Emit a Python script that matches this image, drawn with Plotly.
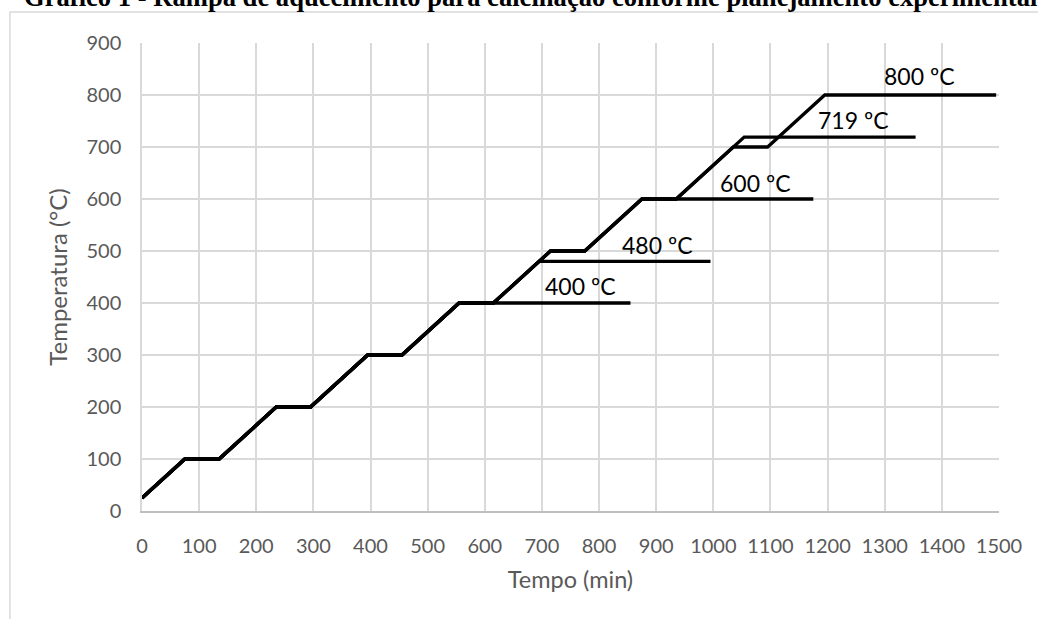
import plotly.graph_objects as go

# Heating programmes (time in min, temperature in °C)
t_800 = [0, 75, 135, 235, 295, 395, 455, 555, 615, 715, 775, 875, 935, 1035, 1095, 1195, 1495]
T_800 = [25, 100, 100, 200, 200, 300, 300, 400, 400, 500, 500, 600, 600, 700, 700, 800, 800]

t_400 = [0, 75, 135, 235, 295, 395, 455, 555, 855]
T_400 = [25, 100, 100, 200, 200, 300, 300, 400, 400]

t_480 = [0, 75, 135, 235, 295, 395, 455, 555, 615, 695, 995]
T_480 = [25, 100, 100, 200, 200, 300, 300, 400, 400, 480, 480]

t_600 = [0, 75, 135, 235, 295, 395, 455, 555, 615, 715, 775, 875, 1175]
T_600 = [25, 100, 100, 200, 200, 300, 300, 400, 400, 500, 500, 600, 600]

t_719 = [0, 75, 135, 235, 295, 395, 455, 555, 615, 715, 775, 875, 935, 1054, 1354]
T_719 = [25, 100, 100, 200, 200, 300, 300, 400, 400, 500, 500, 600, 600, 719, 719]

# Label text and anchor points (min, °C)
label_text = ["400 ºC", "480 ºC", "600 ºC", "719 ºC", "800 ºC"]
label_x = [768, 902, 1073, 1245, 1361]
label_y = [433, 512, 630, 752, 837]

x_ticks = list(range(0, 1501, 100))
y_ticks = list(range(0, 901, 100))

FONT = "Lato"
TICK_COLOR = "#595959"
GRID = "#d9d9d9"

fig = go.Figure()
for tx, ty in [(t_400, T_400), (t_480, T_480), (t_600, T_600), (t_719, T_719), (t_800, T_800)]:
    fig.add_trace(go.Scatter(x=tx, y=ty, mode="lines",
                             line=dict(color="black", width=3.3),
                             showlegend=False, hoverinfo="skip"))

for txt, lx, ly in zip(label_text, label_x, label_y):
    fig.add_annotation(x=lx, y=ly, text=txt, showarrow=False,
                       font=dict(family=FONT, size=23, color="black"),
                       xanchor="center", yanchor="middle")

# Chart title (partly above the page top)
fig.add_annotation(xref="paper", yref="paper", x=0.4533, y=1.098,
                   text="<b>Gráfico 1 - Rampa de aquecimento para calcinação conforme planejamento experimental</b>",
                   showarrow=False, xanchor="center", yanchor="middle",
                   font=dict(family="Liberation Serif", size=26.6, color="black"))

# Outer chart-area border
fig.add_shape(type="rect", xref="paper", yref="paper",
              x0=-0.1541, y0=-0.6, x1=1.3, y1=1.0662,
              line=dict(color=GRID, width=1.5), fillcolor="rgba(0,0,0,0)", layer="below")

fig.update_layout(
    width=1038, height=619,
    margin=dict(l=142, r=39, t=43, b=108),
    paper_bgcolor="white", plot_bgcolor="white",
    font=dict(family=FONT, size=20, color=TICK_COLOR),
    xaxis=dict(range=[0, 1500], tickvals=x_ticks, showgrid=True, gridcolor=GRID, gridwidth=1.5,
               zeroline=False, showline=True, linecolor="#bfbfbf", linewidth=1.5,
               ticks="", ticklabelstandoff=16, mirror=False,
               title=dict(text="Tempo (min)", font=dict(family=FONT, size=23.5, color=TICK_COLOR), standoff=16),
               tickfont=dict(family=FONT, size=20, color=TICK_COLOR)),
    yaxis=dict(range=[0, 900], tickvals=y_ticks, showgrid=True, gridcolor=GRID, gridwidth=1.5,
               zeroline=False, showline=True, linecolor=GRID, linewidth=1.5,
               ticks="", ticklabelstandoff=15,
               title=dict(text="Temperatura (°C)", font=dict(family=FONT, size=24, color=TICK_COLOR), standoff=12),
               tickfont=dict(family=FONT, size=20, color=TICK_COLOR)),
)

fig.write_html("out.html")
